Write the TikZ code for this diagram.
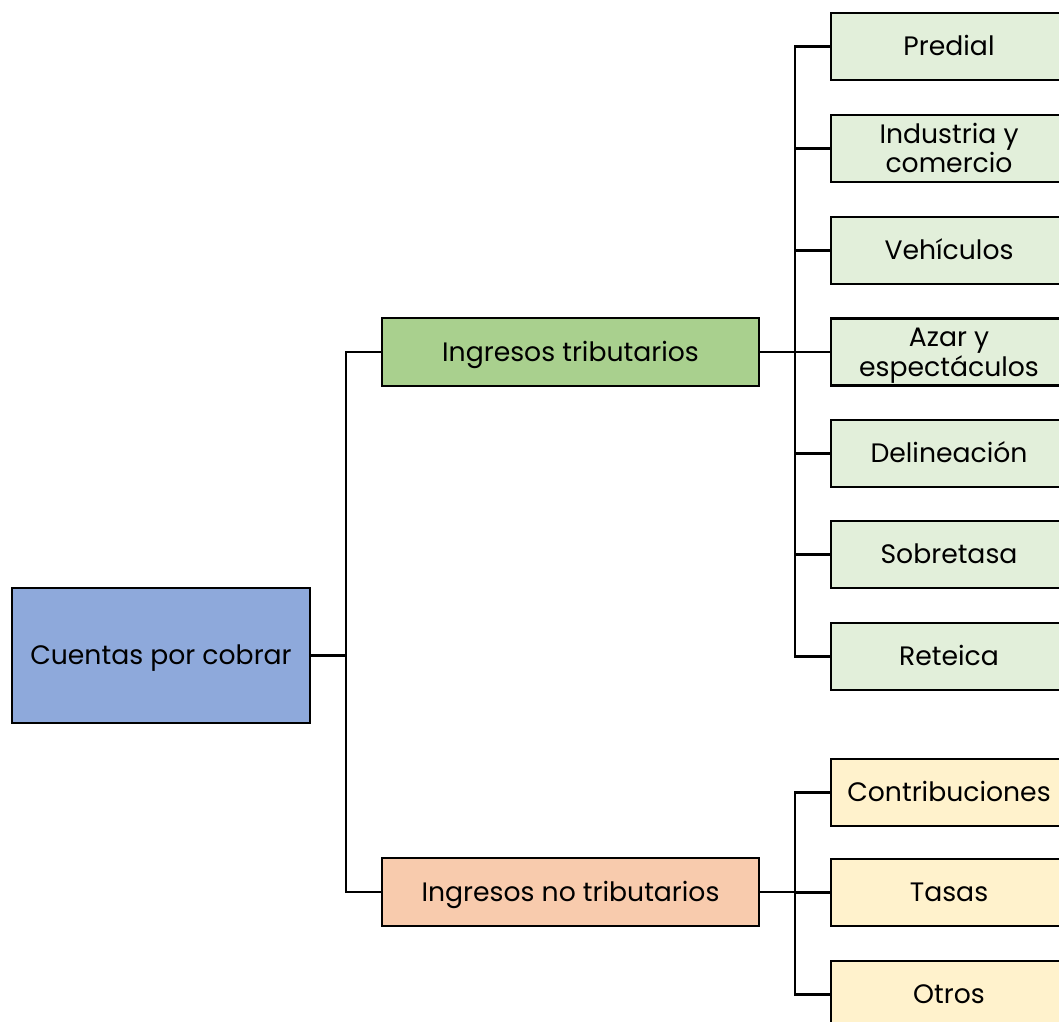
\documentclass[tikz,border=0pt]{standalone}
\usepackage{fontspec}
\setmainfont{Poppins}
\definecolor{cRoot}{HTML}{8EA9DB}
\definecolor{cTrib}{HTML}{A9D08E}
\definecolor{cTribL}{HTML}{E2EFDA}
\definecolor{cNo}{HTML}{F8CBAD}
\definecolor{cNoL}{HTML}{FFF2CC}
\begin{document}
\begin{tikzpicture}[x=0.75pt,y=-0.75pt,
  box/.style={draw=black, line width=1.6pt, inner sep=0pt, align=center,
    font=\fontsize{20}{22}\selectfont, text=black, text height=14pt, text depth=0pt},
  twoline/.style={text height=36pt, text depth=0pt},
  rootbox/.style={box, fill=cRoot, minimum width=223.5pt, minimum height=101.25pt},
  midbox/.style={box, minimum width=282.75pt, minimum height=51pt},
  leafbox/.style={box, minimum width=177pt, minimum height=50.25pt},
  conn/.style={draw=black, line width=1.6pt}]
\useasboundingbox (0,0) rectangle (1059,1021);
\begin{scope}
\clip (0,0) rectangle (1059,1021);
\node[rootbox] (root) at (161,655.5) {Cuentas por cobrar};
\node[midbox, fill=cTrib] (trib) at (570.5,352) {Ingresos tributarios};
\node[midbox, fill=cNo] (notrib) at (570.5,892) {Ingresos no tributarios};
\foreach \n/\y/\t in {l1/46.5/Predial, l3/250.5/Vehículos,
  l5/453.5/Delineación, l6/554.5/Sobretasa, l7/656.5/Reteica}{
  \node[leafbox, fill=cTribL] (\n) at (949,\y) {\t};
}
\node[leafbox, twoline, fill=cTribL] (l2) at (949,148.5) {Industria y\\comercio};
\node[leafbox, twoline, fill=cTribL] (l4) at (949,352) {Azar y\\espectáculos};
\foreach \n/\y/\t in {m1/792.5/Contribuciones, m2/892.5/Tasas, m3/994.5/Otros}{
  \node[leafbox, fill=cNoL] (\n) at (949,\y) {\t};
}
\coordinate (j0) at (346,655.5);
\draw[conn] (root.east) -- (j0);
\draw[conn] (j0) |- (trib.west);
\draw[conn] (j0) |- (notrib.west);
\coordinate (j1) at (795,352);
\draw[conn] (trib.east) -- (j1);
\foreach \n in {l1,l2,l3,l4,l5,l6,l7}{\draw[conn] (j1) |- (\n.west);}
\coordinate (j2) at (795,892);
\draw[conn] (notrib.east) -- (j2);
\foreach \n in {m1,m2,m3}{\draw[conn] (j2) |- (\n.west);}
\end{scope}
\end{tikzpicture}
\end{document}
